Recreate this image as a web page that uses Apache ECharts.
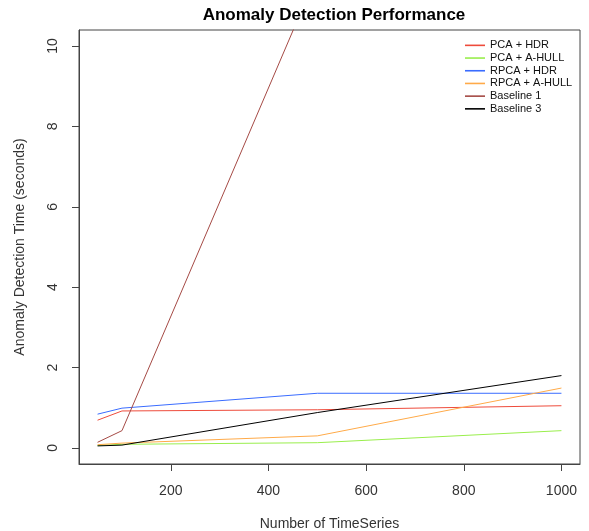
<!DOCTYPE html>
<html>
<head>
<meta charset="utf-8">
<script src="https://cdn.jsdelivr.net/npm/echarts@6/dist/echarts.min.js"></script>
<style>
	html, body { margin: 0; padding: 0; background: #fff; }
	#chart { width: 589px; height: 531px; }
</style>
</head>
<body>
<div id="chart"></div>
<script>
	// number of time series
	const xValues = [50, 100, 500, 1000];
	// detection time (seconds)
	const pcaHdr = [0.69, 0.92, 0.95, 1.05];
	const pcaAhull = [0.06, 0.09, 0.13, 0.43];
	const rpcaHdr = [0.84, 0.99, 1.36, 1.36];
	const rpcaAhull = [0.08, 0.12, 0.30, 1.49];
	const baseline1 = [0.14, 0.43, 11.8, 24.0];
	const baseline3 = [0.05, 0.07, 0.88, 1.80];

	const seriesNames = ['PCA + HDR', 'PCA + A-HULL', 'RPCA + HDR', 'RPCA + A-HULL', 'Baseline 1', 'Baseline 3'];
	const seriesColors = ['#ee4b3b', '#99ee4c', '#3a6cff', '#ffaa48', '#a54a45', '#000000'];
	const seriesData = [pcaHdr, pcaAhull, rpcaHdr, rpcaAhull, baseline1, baseline3];

	const xTicks = [200, 400, 600, 800, 1000];
	const yTicks = [0, 2, 4, 6, 8, 10];

	const font = 'Liberation Sans, Arial, sans-serif';
	let mychart = echarts.init(document.getElementById('chart'));
	let option = {
		animation: false,
		title: {
			text: 'Anomaly Detection Performance',
			left: 329,
			textAlign: 'center',
			top: 2,
			textStyle: { fontSize: 17, fontWeight: 'bold', color: '#000', fontFamily: font }
		},
		legend: {
			orient: 'vertical',
			left: 460,
			top: 34,
			icon: 'rect',
			itemWidth: 20,
			itemHeight: 1.6,
			itemGap: 0,
			data: seriesNames,
			textStyle: { fontSize: 11, lineHeight: 12.7, color: '#111', fontFamily: font }
		},
		grid: {
			left: 79,
			right: 9,
			top: 30,
			bottom: 67,
			outerBoundsMode: 'none',
			show: true,
			borderColor: '#444',
			borderWidth: 1
		},
		xAxis: {
			type: 'value',
			min: 12,
			max: 1038,
			name: 'Number of TimeSeries',
			nameLocation: 'middle',
			nameGap: 53,
			nameTextStyle: { fontSize: 14, color: '#333', fontFamily: font },
			splitLine: { show: false },
			axisLine: { show: true, onZero: false, lineStyle: { color: '#444' } },
			axisTick: { show: true, customValues: xTicks, length: 7, lineStyle: { color: '#444' } },
			axisLabel: { customValues: xTicks, margin: 20, fontSize: 14, color: '#333', fontFamily: font,
				formatter: v => String(v) }
		},
		yAxis: {
			type: 'value',
			min: -0.4,
			max: 10.4,
			name: 'Anomaly Detection Time (seconds)',
			nameLocation: 'middle',
			nameGap: 52,
			nameTextStyle: { fontSize: 14, color: '#333', fontFamily: font },
			splitLine: { show: false },
			axisLine: { show: true, onZero: false, lineStyle: { color: '#444' } },
			axisTick: { show: true, customValues: yTicks, length: 7, lineStyle: { color: '#444' } },
			axisLabel: { customValues: yTicks, rotate: 90, margin: 19, fontSize: 14, color: '#333', fontFamily: font,
				formatter: v => String(v) }
		},
		series: seriesNames.map((name, k) => ({
			name: name,
			type: 'line',
			symbol: 'none',
			showSymbol: false,
			clip: true,
			color: seriesColors[k],
			lineStyle: { width: 1, color: seriesColors[k] },
			data: xValues.map((x, i) => [x, seriesData[k][i]])
		}))
	};
	mychart.setOption(option);
</script>
</body>
</html>
